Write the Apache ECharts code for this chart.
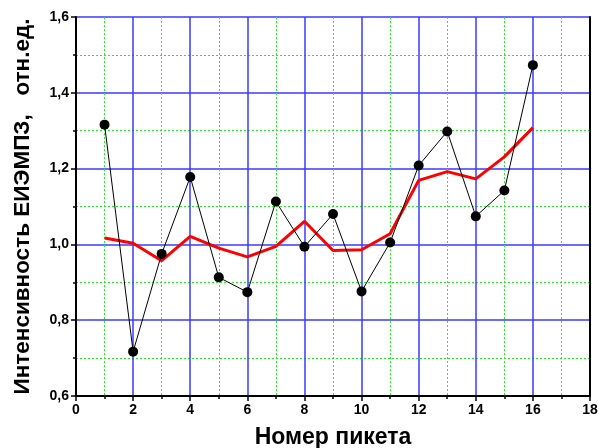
<!DOCTYPE html>
<html>
<head>
<meta charset="utf-8">
<script src="https://cdn.jsdelivr.net/npm/echarts@6/dist/echarts.min.js"></script>
<style>html,body{margin:0;padding:0;background:#fff}#c{width:599px;height:448px}</style>
</head>
<body>
<div id="c"></div>
<script>
var pickets = [1,2,3,4,5,6,7,8,9,10,11,12,13,14,15,16];
var measured = [1.316,0.717,0.975,1.178,0.913,0.874,1.113,0.994,1.080,0.876,1.005,1.208,1.298,1.074,1.142,1.473];
var smoothed = [1.017,1.003,0.957,1.021,0.990,0.967,0.995,1.061,0.984,0.986,1.028,1.169,1.192,1.173,1.231,1.308];
var xTitle = 'Номер пикета';
var yTitle = 'Интенсивность ЕИЭМПЗ,   отн.ед.';

var chart = echarts.init(document.getElementById('c'), null, {renderer:'canvas'});
var font = 'Liberation Sans, Arial, sans-serif';
chart.setOption({
  animation:false,
  backgroundColor:'#fff',
  grid:{left:76,right:9,top:17,bottom:52,show:true,borderColor:'#000',borderWidth:0,containLabel:false,outerBoundsMode:'none'},
  xAxis:{
    type:'value',min:0,max:18,interval:2,
    name:xTitle,nameLocation:'middle',nameGap:30,
    nameTextStyle:{fontFamily:font,fontWeight:'bold',fontSize:23,color:'#000'},
    axisLine:{show:true,onZero:false,lineStyle:{color:'#000',width:2}},
    axisTick:{show:true,inside:false,length:5,lineStyle:{color:'#000',width:1.5}},
    minorTick:{show:true,splitNumber:2,length:3,lineStyle:{color:'#000',width:1.5}},
    axisLabel:{fontFamily:font,fontWeight:'bold',fontSize:14,color:'#000',margin:7},
    splitLine:{show:true,lineStyle:{color:'#3a3aff',width:1.5}},
    minorSplitLine:{show:true,lineStyle:{color:'#22ee22',width:1,type:[2,2]}}
  },
  yAxis:[{
    type:'value',min:0.6,max:1.6,interval:0.2,
    name:yTitle,nameLocation:'middle',nameGap:42,
    nameTextStyle:{fontFamily:font,fontWeight:'bold',fontSize:22.5,color:'#000'},
    axisLine:{show:true,onZero:false,lineStyle:{color:'#000',width:2}},
    axisTick:{show:true,inside:false,length:5,lineStyle:{color:'#000',width:1.5}},
    minorTick:{show:true,splitNumber:2,length:3,lineStyle:{color:'#000',width:1.5}},
    axisLabel:{fontFamily:font,fontWeight:'bold',fontSize:14,color:'#000',margin:7,
      formatter:function(v){return v.toFixed(1).replace('.',',');}},
    splitLine:{show:true,lineStyle:{color:'#3a3aff',width:1.5}},
    minorSplitLine:{show:true,lineStyle:{color:'#22ee22',width:1,type:[2,2]}}
  },{
    type:'value',min:0.6,max:1.6,interval:0.2,position:'right',
    axisLine:{show:true,onZero:false,lineStyle:{color:'#000',width:2}},
    axisTick:{show:false},axisLabel:{show:false},splitLine:{show:false}
  }],
  series:[
    {type:'line',data:pickets.map(function(x,i){return [x,smoothed[i]];}),
     symbol:'none',lineStyle:{color:'#ff0000',width:3},z:3},
    {type:'line',data:pickets.map(function(x,i){return [x,measured[i]];}),
     symbol:'circle',symbolSize:10,itemStyle:{color:'#000'},
     lineStyle:{color:'#000',width:1},z:4}
  ]
});
</script>
</body>
</html>
